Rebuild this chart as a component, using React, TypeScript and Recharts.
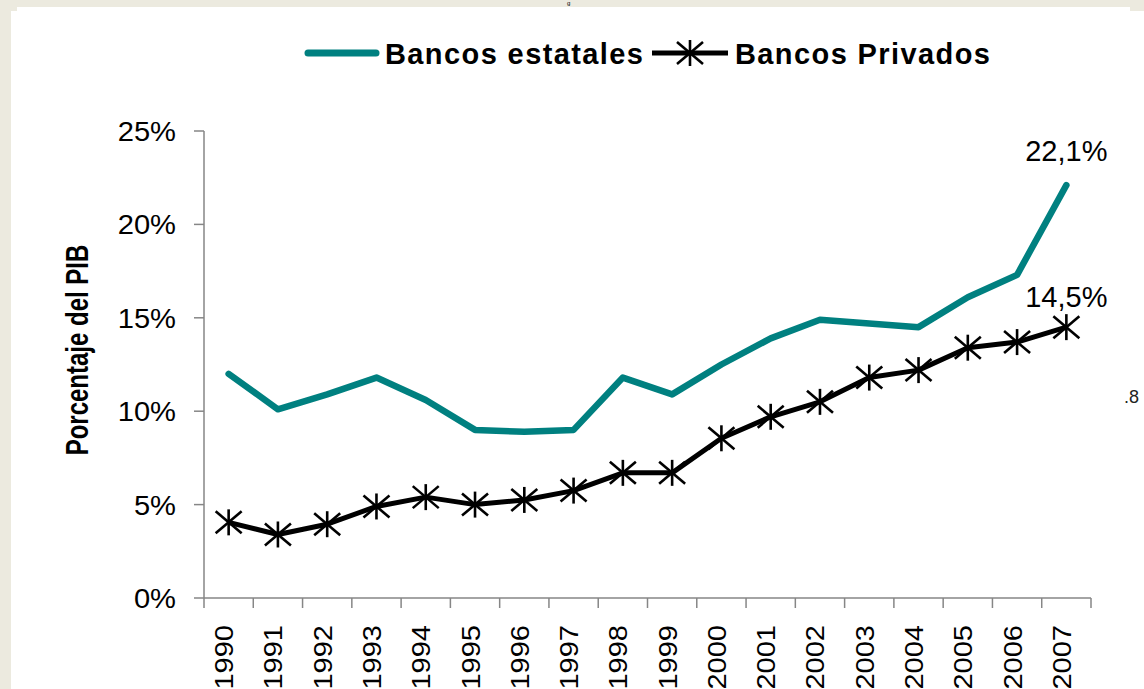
import React from 'react';
import { LineChart, Line, XAxis, YAxis, Legend, LabelList, Label } from 'recharts';

const years = ['1990', '1991', '1992', '1993', '1994', '1995', '1996', '1997', '1998', '1999', '2000', '2001', '2002', '2003', '2004', '2005', '2006', '2007'];
const estatales = [12.0, 10.1, 10.9, 11.8, 10.6, 9.0, 8.9, 9.0, 11.8, 10.9, 12.5, 13.9, 14.9, 14.7, 14.5, 16.1, 17.3, 22.1];
const privados = [4.05, 3.4, 3.95, 4.9, 5.4, 5.0, 5.25, 5.75, 6.7, 6.7, 8.55, 9.7, 10.5, 11.8, 12.2, 13.4, 13.7, 14.5];
const yTicks = [0, 5, 10, 15, 20, 25];
const seriesNames = ['Bancos estatales', 'Bancos Privados'];
const yAxisTitle = 'Porcentaje del PIB';

const data = years.map((year, i) => ({ year, estatales: estatales[i], privados: privados[i] }));

const W = 1144;
const H = 689;
const M = { top: 131, right: 53, left: 0, bottom: 0 };
const Y_W = 204;
const X_H = 91;
const PLOT_W = W - Y_W - M.right;
const AXIS_Y = H - X_H;
const TEAL = '#008080';
const AXIS = '#868686';
const FONT = '"Liberation Sans", Arial, sans-serif';

const fmt = (v: number) => `${v.toFixed(1).replace('.', ',')}%`;

const XTick = (props: any) => {
  const { x, payload, index } = props;
  const bw = PLOT_W / years.length;
  return (
    <g>
      <line x1={x - bw / 2} x2={x - bw / 2} y1={AXIS_Y} y2={AXIS_Y + 10} stroke={AXIS} strokeWidth={1.5} />
      {index === years.length - 1 && (
        <line x1={x + bw / 2} x2={x + bw / 2} y1={AXIS_Y} y2={AXIS_Y + 10} stroke={AXIS} strokeWidth={1.5} />
      )}
      <text
        transform={`translate(${x + 4.5}, ${AXIS_Y + 27}) scale(0.92,1) rotate(-90)`}
        textAnchor="end"
        fontSize={29}
        fontFamily={FONT}
        fill="#000"
      >
        {payload.value}
      </text>
    </g>
  );
};

const YTick = (props: any) => {
  const { y, payload } = props;
  return (
    <text
      transform={`translate(176, ${y + 10}) scale(1.04,1)`}
      textAnchor="end"
      fontSize={28}
      fontFamily={FONT}
      fill="#000"
    >
      {`${payload.value}%`}
    </text>
  );
};

const Asterisk = (props: any) => {
  const { cx, cy, index } = props;
  if (cx == null || cy == null) return <g key={`a${index}`} />;
  return (
    <g key={`a${index}`} stroke="#000" strokeWidth={2.6}>
      <line x1={cx} x2={cx} y1={cy - 13} y2={cy + 13} />
      <line x1={cx - 13} x2={cx + 13} y1={cy - 11} y2={cy + 11} />
      <line x1={cx - 13} x2={cx + 13} y1={cy + 11} y2={cy - 11} />
    </g>
  );
};

const lastLabel = (offset: number) => (p: any) => {
  if (p.index !== years.length - 1) return null;
  return (
    <text key={`l${p.index}`} x={p.x} y={p.y - offset} textAnchor="middle" fontSize={29} fontFamily={FONT} fill="#000">
      {fmt(Number(p.value))}
    </text>
  );
};

const LegendContent = () => (
  <svg width={W} height={40} style={{ display: 'block', overflow: 'visible' }}>
    <line x1={308} x2={376} y1={18} y2={18} stroke={TEAL} strokeWidth={7} strokeLinecap="round" />
    <text x={385} y={28.5} fontSize={29} fontWeight="bold" letterSpacing={1.4} fontFamily={FONT} fill="#000">
      {seriesNames[0]}
    </text>
    <line x1={652} x2={728} y1={18} y2={18} stroke="#000" strokeWidth={5} />
    <g stroke="#000" strokeWidth={2.6}>
      <line x1={690} x2={690} y1={5} y2={31} />
      <line x1={677} x2={703} y1={7} y2={29} />
      <line x1={677} x2={703} y1={29} y2={7} />
    </g>
    <text x={735} y={28.5} fontSize={29} fontWeight="bold" letterSpacing={1.4} fontFamily={FONT} fill="#000">
      {seriesNames[1]}
    </text>
  </svg>
);

export default function App() {
  return (
    <div style={{ position: 'absolute', left: 0, top: 0, width: W, height: H, background: '#ECEADF', overflow: 'hidden' }}>
      <div style={{ position: 'absolute', left: 11, top: 11, width: W - 11, height: H - 11, background: '#fff' }} />
      <div style={{ position: 'absolute', left: 17, top: 7, width: 1113, height: H - 7, background: '#fff' }} />
      <div style={{ position: 'absolute', left: 567, top: 0, fontFamily: FONT, fontSize: 6, color: '#000', lineHeight: '6px' }}>g</div>
      <div style={{ position: 'absolute', left: 1124, top: 388, fontFamily: FONT, fontSize: 18, color: '#222', lineHeight: '18px' }}>.8</div>
      <div style={{ position: 'absolute', left: 0, top: 0 }}>
        <LineChart width={W} height={H} data={data} margin={M}>
          <XAxis
            dataKey="year"
            scale="band"
            interval={0}
            height={X_H}
            tickLine={false}
            axisLine={{ stroke: AXIS, strokeWidth: 1.5 }}
            tick={<XTick />}
          />
          <YAxis
            width={Y_W}
            domain={[0, 25]}
            ticks={yTicks}
            tickSize={10}
            tickLine={{ stroke: AXIS, strokeWidth: 1.5 }}
            axisLine={{ stroke: AXIS, strokeWidth: 1.5 }}
            tick={<YTick />}
          >
            <Label
              content={() => (
                <text
                  transform="translate(88, 350) scale(1.3,1) rotate(-90)"
                  textAnchor="middle"
                  fontSize={24}
                  fontWeight="bold"
                  fontFamily={FONT}
                  fill="#000"
                >
                  {yAxisTitle}
                </text>
              )}
            />
          </YAxis>
          <Legend
            verticalAlign="top"
            content={() => <LegendContent />}
            wrapperStyle={{ top: 35, left: 0, width: W, height: 0, overflow: 'visible' }}
          />
          <Line
            type="linear"
            dataKey="estatales"
            name={seriesNames[0]}
            stroke={TEAL}
            strokeWidth={6.5}
            strokeLinecap="round"
            strokeLinejoin="round"
            dot={false}
            activeDot={false}
            isAnimationActive={false}
          >
            <LabelList dataKey="estatales" content={lastLabel(24)} />
          </Line>
          <Line
            type="linear"
            dataKey="privados"
            name={seriesNames[1]}
            stroke="#000"
            strokeWidth={5}
            strokeLinejoin="round"
            dot={(p: any) => <Asterisk {...p} />}
            activeDot={false}
            isAnimationActive={false}
          >
            <LabelList dataKey="privados" content={lastLabel(20)} />
          </Line>
        </LineChart>
      </div>
    </div>
  );
}
